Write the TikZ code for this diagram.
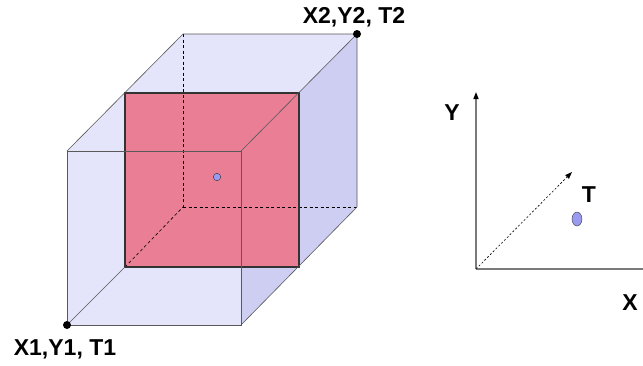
\documentclass[tikz,border=0pt]{standalone}
\usepackage{fontspec}
\setmainfont{Liberation Sans}
\usetikzlibrary{positioning, arrows.meta, shapes.geometric}
\definecolor{cubeblue}{HTML}{E4E4FB}
\definecolor{sideblue}{HTML}{CECEF3}
\definecolor{slicered}{HTML}{EA7E95}
\definecolor{dotblue}{HTML}{9A9AF0}
\definecolor{axisgray}{HTML}{7A7A7A}

\begin{document}
\begin{tikzpicture}[
        x=1pt, y=-1pt,
        font=\fontsize{23}{27}\selectfont\bfseries,
        edge/.style={draw=black!65, line width=0.6pt},
        hidden/.style={draw=black, line width=0.6pt, dash pattern=on 3pt off 2.5pt},
        slice/.style={draw=black!80, line width=1.2pt},
        corner/.style={circle, fill=black, inner sep=0pt, minimum size=8pt},
        point/.style={circle, draw=black!80, fill=dotblue, inner sep=0pt, minimum size=7.5pt},
        label/.style={inner sep=1pt},
        axis/.style={draw=axisgray, line width=1.5pt,
                     -{Triangle[length=7pt, width=5pt, color=black]}}
    ]
    \useasboundingbox (0,0) rectangle (643,365);
    \clip (0,0) rectangle (643,365);

    % cube corners (front face, back face)
    \coordinate (fbl) at (67,325);
    \coordinate (fbr) at (241,325);
    \coordinate (ftl) at (67,151);
    \coordinate (ftr) at (241,151);
    \coordinate (bbl) at (183,207);
    \coordinate (bbr) at (357,207);
    \coordinate (btl) at (183,34);
    \coordinate (btr) at (357,34);
    % slice corners
    \coordinate (sbl) at (125,267);
    \coordinate (str) at (299,93);

    % faces
    \fill[cubeblue] (fbl) -- (ftl) -- (btl) -- (btr) -- (bbr) -- (fbr) -- cycle;
    \fill[sideblue] (ftr) -- (btr) -- (bbr) -- (fbr) -- cycle;
    \fill[slicered] (sbl) rectangle (str);

    % hidden edges
    \draw[hidden] (btl) -- (bbl);
    \draw[hidden] (bbl) -- (bbr);
    \draw[hidden] (sbl) -- (bbl);

    \draw[slice] (sbl) rectangle (str);

    \draw[edge] (fbl) rectangle (ftr);
    \draw[edge] (ftl) -- (btl) -- (btr) -- (bbr) -- (fbr);
    \draw[edge] (ftr) -- (btr);
    \draw[edge] (fbl) -- (sbl);

    \node (low) [corner] at (fbl) {};
    \node (high) [corner] at (btr) {};
    \node (event) [point] at (217,177) {};

    \node (lowlbl) [label] at (65,349) {X1,Y1, T1};
    \node (highlbl) [label] at (354,17) {X2,Y2, T2};

    % time axes
    \coordinate (origin) at (476,269);
    \coordinate (yend) at (476,92);
    \coordinate (xend) at (652,269);
    \coordinate (tend) at (572,172);

    \draw[axis] (origin) -- (yend);
    \draw[axis] (origin) -- (xend);
    \draw[black, line width=0.6pt, dash pattern=on 2pt off 2pt,
          -{Triangle[length=7pt, width=5pt]}] (origin) -- (tend);

    \node (tdot) [ellipse, draw=black!80, fill=dotblue, inner sep=0pt,
                  minimum width=10pt, minimum height=14pt] at (577,219) {};
    \node (ylbl) [label] at (452,113) {Y};
    \node (xlbl) [label] at (630,303) {X};
    \node (tlbl) [label] at (589,195) {T};
\end{tikzpicture}
\end{document}
